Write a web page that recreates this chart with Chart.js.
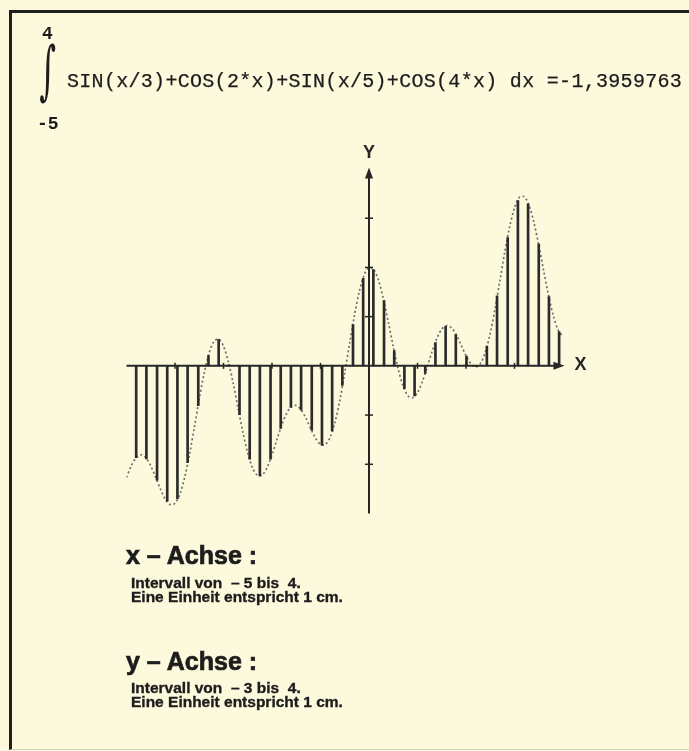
<!DOCTYPE html>
<html>
<head>
<meta charset="utf-8">
<script src="https://cdn.jsdelivr.net/npm/chart.js@4.4.1/dist/chart.umd.min.js"></script>
<style>
  html, body { margin: 0; padding: 0; background: #fdf9dc; }
  #page { position: relative; width: 689px; height: 751px; overflow: hidden; background: #fdf9dc; }
  #frame { position: absolute; left: 9px; top: 10px; width: 700px; height: 736px;
           border-top: 3px solid #1f1f1f; border-left: 3px solid #1f1f1f; border-bottom: 1px solid #d8d3b8; }
  canvas { position: absolute; left: 0; top: 0; }
  .t { position: absolute; white-space: pre; line-height: 1; color: #1c1c1c; }
  .mono { font-family: "Liberation Mono", "DejaVu Sans Mono", monospace; }
  .head { font-family: "Liberation Sans", Arial, sans-serif; font-weight: bold; font-size: 25px; -webkit-text-stroke: 0.7px #1c1c1c; }
  .note { font-family: "Liberation Sans", Arial, sans-serif; font-weight: bold; font-size: 15.5px; -webkit-text-stroke: 0.35px #1c1c1c; }
</style>
</head>
<body>
<div id="page">
  <div id="frame"></div>
  <canvas id="chart" width="689" height="751"></canvas>

  <div class="t mono" style="left:42px; top:25px; font-size:18px; font-weight:bold;">4</div>
  <div class="t" style="left:31px; top:38px; font-family:'DejaVu Serif',serif; font-size:64px; transform:scaleX(0.5);">∫</div>
  <div class="t mono" style="left:67px; top:72px; font-size:20px; letter-spacing:0.3px; -webkit-text-stroke:0.25px #1c1c1c;">SIN(x/3)+COS(2*x)+SIN(x/5)+COS(4*x) dx =-1,3959763</div>
  <div class="t mono" style="left:37px; top:115px; font-size:18px; font-weight:bold;">-5</div>

  <div class="t head" style="left:126px; top:543px;">x – Achse :</div>
  <div class="t note" style="left:131px; top:575px;">Intervall von  – 5 bis  4.</div>
  <div class="t note" style="left:131px; top:589px;">Eine Einheit entspricht 1 cm.</div>

  <div class="t head" style="left:126px; top:649px;">y – Achse :</div>
  <div class="t note" style="left:131px; top:680px;">Intervall von  – 3 bis  4.</div>
  <div class="t note" style="left:131px; top:694px;">Eine Einheit entspricht 1 cm.</div>
</div>
<script>
// sample points of the dotted curve (x, y)
const curveX = [
  -5.0, -4.9, -4.8, -4.7, -4.6, -4.5, -4.4, -4.3, -4.2, -4.1,
  -4.0, -3.9, -3.8, -3.7, -3.6, -3.5, -3.4, -3.3, -3.2, -3.1,
  -3.0, -2.9, -2.8, -2.7, -2.6, -2.5, -2.4, -2.3, -2.2, -2.1,
  -2.0, -1.9, -1.8, -1.7, -1.6, -1.5, -1.4, -1.3, -1.2, -1.1,
  -1.0, -0.9, -0.8, -0.7, -0.6, -0.5, -0.4, -0.3, -0.2, -0.1,
  0.0, 0.1, 0.2, 0.3, 0.4, 0.5, 0.6, 0.7, 0.8, 0.9,
  1.0, 1.1, 1.2, 1.3, 1.4, 1.5, 1.6, 1.7, 1.8, 1.9,
  2.0, 2.1, 2.2, 2.3, 2.4, 2.5, 2.6, 2.7, 2.8, 2.9,
  3.0, 3.1, 3.2, 3.3, 3.4, 3.5, 3.6, 3.7, 3.8, 3.9,
  4.0
];
const curveY = [
  -2.268, -2.026, -1.864, -1.808, -1.869, -2.032, -2.261, -2.506, -2.710, -2.819,
  -2.792, -2.607, -2.266, -1.795, -1.243, -0.673, -0.154, 0.252, 0.493, 0.543,
  0.398, 0.083, -0.356, -0.857, -1.352, -1.775, -2.076, -2.225, -2.214, -2.062,
  -1.807, -1.502, -1.205, -0.968, -0.828, -0.805, -0.893, -1.065, -1.277, -1.473,
  -1.596, -1.599, -1.450, -1.143, -0.693, -0.142, 0.455, 1.028, 1.511, 1.848,
  2.000, 1.954, 1.724, 1.348, 0.880, 0.390, -0.057, -0.401, -0.605, -0.649,
  -0.544, -0.319, -0.023, 0.289, 0.560, 0.745, 0.818, 0.773, 0.629, 0.423,
  0.209, 0.042, -0.023, 0.051, 0.282, 0.664, 1.167, 1.738, 2.313, 2.825,
  3.210, 3.423, 3.439, 3.260, 2.916, 2.454, 1.940, 1.441, 1.021, 0.727,
  0.586
];

// the vertical strips (Riemann sum lines)
const barX = [
  -4.80, -4.59, -4.37, -4.16, -3.95, -3.74, -3.52, -3.31, -3.10, -2.89,
  -2.67, -2.46, -2.25, -2.03, -1.82, -1.61, -1.40, -1.18, -0.97, -0.76,
  -0.55, -0.33, -0.12, 0.09, 0.31, 0.52, 0.73, 0.94, 1.16, 1.37,
  1.58, 1.79, 2.01, 2.22, 2.43, 2.64, 2.86, 3.07, 3.28, 3.50,
  3.71, 3.92
];
const barY = [
  -1.864, -1.890, -2.322, -2.751, -2.698, -1.969, -0.810, 0.207, 0.540, 0.022,
  -0.991, -1.895, -2.238, -1.896, -1.270, -0.842, -0.898, -1.308, -1.612, -1.324,
  -0.395, 0.839, 1.777, 1.958, 1.325, 0.310, -0.462, -0.610, -0.153, 0.473,
  0.804, 0.638, 0.197, -0.015, 0.404, 1.424, 2.605, 3.359, 3.290, 2.472,
  1.407, 0.697
];

const xTicks = [-4, -3, -2, -1, 1, 2, 3];
const yTicks = [-2, -1, 1, 2, 3];

// hand drawn style axes with arrows, through the origin
const axesPlugin = {
  id: 'axes',
  afterDatasetsDraw(chart) {
    const ctx = chart.ctx;
    const sx = chart.scales.x, sy = chart.scales.y;
    const x0 = sx.getPixelForValue(0), y0 = sy.getPixelForValue(0);
    ctx.save();
    ctx.strokeStyle = '#262626';
    ctx.fillStyle = '#262626';
    ctx.lineWidth = 2;

    // x axis
    const xl = sx.getPixelForValue(-5), xr = sx.getPixelForValue(4.03);
    ctx.beginPath();
    ctx.moveTo(xl, y0);
    ctx.lineTo(xr - 6, y0);
    ctx.stroke();
    ctx.beginPath();
    ctx.moveTo(xr, y0);
    ctx.lineTo(xr - 11, y0 - 4);
    ctx.lineTo(xr - 11, y0 + 4);
    ctx.closePath();
    ctx.fill();

    // y axis
    const yb = sy.getPixelForValue(-3), yt = sy.getPixelForValue(4.03);
    ctx.beginPath();
    ctx.moveTo(x0, yb);
    ctx.lineTo(x0, yt + 6);
    ctx.stroke();
    ctx.beginPath();
    ctx.moveTo(x0, yt);
    ctx.lineTo(x0 - 4, yt + 11);
    ctx.lineTo(x0 + 4, yt + 11);
    ctx.closePath();
    ctx.fill();

    ctx.lineWidth = 1.5;
    for (let t of xTicks) {
      const px = sx.getPixelForValue(t);
      ctx.beginPath();
      ctx.moveTo(px, y0 - 3);
      ctx.lineTo(px, y0 + 3);
      ctx.stroke();
    }
    for (let t of yTicks) {
      const py = sy.getPixelForValue(t);
      ctx.beginPath();
      ctx.moveTo(x0 - 4, py);
      ctx.lineTo(x0 + 4, py);
      ctx.stroke();
    }

    ctx.font = 'bold 18px "Liberation Sans", Arial, sans-serif';
    ctx.textAlign = 'center';
    ctx.textBaseline = 'middle';
    ctx.fillText('Y', x0, yt - 14);
    ctx.fillText('X', xr + 16, y0 - 1);
    ctx.restore();
  }
};

const data = {
  datasets: [{
    type: 'bar',
    data: barX.map((x, i) => ({x: x, y: barY[i]})),
    backgroundColor: '#2b2b2b',
    barThickness: 2,
    order: 0
  }, {
    type: 'line',
    data: curveX.map((x, i) => ({x: x, y: curveY[i]})),
    borderColor: '#6e6e6e',
    borderWidth: 1.7,
    borderDash: [2, 2.5],
    pointRadius: 0,
    tension: 0.3,
    order: 1
  }]
};

const config = {
  type: 'bar',
  data: data,
  options: {
    responsive: false,
    animation: false,
    events: [],
    layout: {padding: {left: 126.5, right: 126, top: 169, bottom: 237.5}},
    plugins: {
      legend: {display: false},
      tooltip: {enabled: false}
    },
    scales: {
      x: {type: 'linear', min: -5, max: 4, offset: false, display: false},
      y: {type: 'linear', min: -3, max: 4, display: false}
    }
  },
  plugins: [axesPlugin]
};

const myChart = new Chart(document.getElementById('chart'), config);
</script>
</body>
</html>
